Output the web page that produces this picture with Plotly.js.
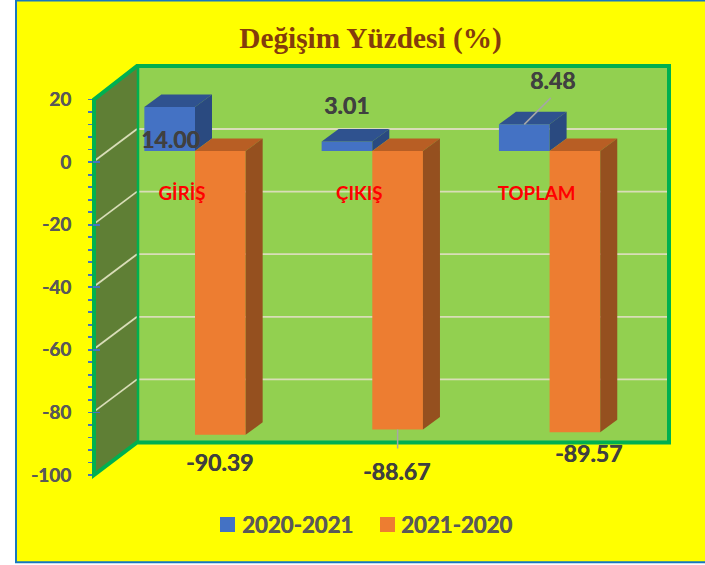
<!DOCTYPE html>
<html>
<head>
<meta charset="utf-8">
<script src="https://cdn.plot.ly/plotly-3.0.1.min.js"></script>
<style>html,body{margin:0;padding:0;background:#fff}</style>
</head>
<body>
<div id="chart" style="width:705px;height:565px"></div>
<script>
const categories = ['GİRİŞ', 'ÇIKIŞ', 'TOPLAM'];
const seriesNames = ['2020-2021', '2021-2020'];
const values2020 = [14.00, 3.01, 8.48];
const values2021 = [-90.39, -88.67, -89.57];
const axisTicks = [20, 0, -20, -40, -60, -80, -100];

// plot box in window pixels
const W = 705, H = 565, L = 93, R = 670, T = 60, B = 480;
const px = v => (v - L) / (R - L), py = v => (B - v) / (B - T);
// bar plane scales
const pxPerCat = 177.3, pxPerUnit = 3.14, cat0 = 195, zeroBar = 151;
const barW = 1 / 3.5;
const depthX = 17 / pxPerCat, depthY = 12.5 / pxPerUnit;
// wall scales
const backY = v => 129 + (0 - v) * 3.13, frontY = v => 162 - v * 3.13;

const blue = '#4472C4', blueTop = '#2F528F', blueSide = '#2A4A80';
const orange = '#ED7D31', orangeTop = '#B85E24', orangeSide = '#95501F';
const green = '#00B050', wall = '#92D050', sideWall = '#5F7F35', grid = '#D9DDB8';

function poly(d, fill, line, lw) {
  return {type: 'path', xref: 'paper', yref: 'paper', path: d, fillcolor: fill,
    line: {color: line, width: lw}, layer: 'below'};
}
const P = (x, y) => px(x) + ',' + py(y);
const clear = 'rgba(0,0,0,0)';

const shapes = [
  {type: 'rect', xref: 'paper', yref: 'paper', x0: px(16), x1: px(708), y0: py(562.3), y1: py(0.5),
    fillcolor: '#FFFF00', line: {color: '#1878BE', width: 2}, layer: 'below'},
  poly(`M${P(137, 66)}L${P(669, 66)}L${P(669, 442.5)}L${P(137, 442.5)}Z`, wall, clear, 0),
  poly(`M${P(94, 475)}L${P(94, frontY(20))}L${P(137, 66)}L${P(137, 442.5)}Z`, sideWall, clear, 0)
];
axisTicks.filter(v => v < 20 && v > -100).forEach(v => {
  shapes.push({type: 'line', xref: 'paper', yref: 'paper', x0: px(95), y0: py(frontY(v) - 1.5), x1: px(137), y1: py(backY(v)),
    line: {color: grid, width: 1.8}, layer: 'below'});
  shapes.push({type: 'line', xref: 'paper', yref: 'paper', x0: px(137), y0: py(backY(v)), x1: px(667), y1: py(backY(v)),
    line: {color: grid, width: 1.8}, layer: 'below'});
});
shapes.push(poly(`M${P(94, 475)}L${P(94, frontY(20))}L${P(137, 66)}L${P(669, 66)}L${P(669, 442.5)}L${P(137, 442.5)}Z`, clear, green, 4));
shapes.push({type: 'line', xref: 'paper', yref: 'paper', x0: px(138), y0: py(66), x1: px(138), y1: py(442.5), line: {color: green, width: 2.5}, layer: 'below'});
// legend swatches
shapes.push({type: 'rect', xref: 'paper', yref: 'paper', x0: px(220), x1: px(235), y0: py(532), y1: py(517), fillcolor: blue, line: {width: 0}, layer: 'above'});
shapes.push({type: 'rect', xref: 'paper', yref: 'paper', x0: px(380), x1: px(395), y0: py(532), y1: py(517), fillcolor: orange, line: {width: 0}, layer: 'above'});

const xs = categories.map((c, i) => i);

function faces(vals, off, topCol, sideCol) {
  const out = [];
  vals.forEach((v, i) => {
    const x0 = i + off, x1 = x0 + barW, hi = Math.max(v, 0), lo = Math.min(v, 0);
    out.push({type: 'scatter', mode: 'lines', x: [x0, x1, x1 + depthX, x0 + depthX, x0],
      y: [hi, hi, hi + depthY, hi + depthY, hi], fill: 'toself', fillcolor: topCol,
      line: {width: 0, color: topCol}, hoverinfo: 'skip', showlegend: false});
    out.push({type: 'scatter', mode: 'lines', x: [x1, x1 + depthX, x1 + depthX, x1, x1],
      y: [hi, hi + depthY, lo + depthY, lo, hi], fill: 'toself', fillcolor: sideCol,
      line: {width: 0, color: sideCol}, hoverinfo: 'skip', showlegend: false});
  });
  return out;
}

const data = [
  {type: 'bar', name: seriesNames[0], x: xs, y: values2020, marker: {color: blue}, showlegend: false},
  {type: 'bar', name: seriesNames[1], x: xs, y: values2021, marker: {color: orange}, showlegend: false},
  ...faces(values2020, -barW, blueTop, blueSide),
  ...faces(values2021, 0, orangeTop, orangeSide),
  {type: 'scatter', mode: 'markers', x: [0], y: [0], xaxis: 'x', yaxis: 'y2', marker: {opacity: 0}, hoverinfo: 'skip', showlegend: false},
  {type: 'scatter', mode: 'markers', x: [0], y: [0], xaxis: 'x', yaxis: 'y3', marker: {opacity: 0}, hoverinfo: 'skip', showlegend: false}
];

const labelFont = {family: 'Lato, sans-serif', size: 23, color: '#404040', shadow: '0.4px 0 0 #404040'};
function valueLabel(i, off, v, dx, dy) {
  return {x: i + off, y: v, xref: 'x', yref: 'y', text: '<b>' + v.toFixed(2) + '</b>', showarrow: false,
    xshift: dx, yshift: dy, font: labelFont, xanchor: 'center', yanchor: 'middle'};
}
function leader(i, off, v, ax, ay) {
  return {x: i + off, y: v, xref: 'x', yref: 'y', text: ' ', font: {size: 1}, showarrow: true, arrowhead: 0, arrowwidth: 1.5,
    arrowcolor: '#A6A6A6', ax: ax, ay: ay, standoff: 0, startstandoff: 0};
}
const legendFont = {family: 'Lato, sans-serif', size: 22.2, color: '#595959', shadow: '0.4px 0 0 #595959'};
const annotations = [
  valueLabel(0, -barW / 2, values2020[0], 1, -32),
  valueLabel(1, -barW / 2, values2020[1], -0.5, 36.5),
  valueLabel(2, -barW / 2, values2020[2], 28, 44),
  valueLabel(0, barW / 2, values2021[0], -1, -27),
  valueLabel(1, barW / 2, values2021[1], -1, -42),
  valueLabel(2, barW / 2, values2021[2], 14, -20.5),
  leader(2, -barW / 2, values2020[2], 28, -28),
  leader(1, barW / 2, values2021[1], 0, 21),
  {x: px(239.5), y: py(524.3), xref: 'paper', yref: 'paper', text: '<b>' + seriesNames[0] + '</b>', showarrow: false, xanchor: 'left', yanchor: 'middle', font: legendFont},
  {x: px(398.5), y: py(524.3), xref: 'paper', yref: 'paper', text: '<b>' + seriesNames[1] + '</b>', showarrow: false, xanchor: 'left', yanchor: 'middle', font: legendFont}
];

const tickFont = {family: 'Lato, sans-serif', size: 19, color: '#595959', shadow: '0.4px 0 0 #595959'};
const layout = {
  width: W, height: H, autosize: false,
  margin: {l: L, r: W - R, t: T, b: H - B, pad: 0},
  paper_bgcolor: '#FFFFFF', plot_bgcolor: clear,
  showlegend: false,
  title: {text: '<b>Değişim Yüzdesi (%)</b>', x: 370.5 / W, y: 1 - 38 / H, xanchor: 'center', yanchor: 'middle',
    font: {family: '"Liberation Serif", serif', size: 29.3, color: '#843C0C'}},
  barmode: 'group', bargap: 1 - 2 * barW, bargroupgap: 0,
  xaxis: {
    range: [(L - cat0) / pxPerCat, (R - cat0) / pxPerCat], tickmode: 'array', tickvals: xs, ticktext: categories.map(c => '<b>' + c + '</b>'),
    anchor: 'free', position: (B - 180) / (B - T), side: 'bottom', ticks: '', showgrid: false, zeroline: false, showline: false,
    ticklabelshift: -13, tickfont: {family: 'Lato, sans-serif', size: 18.7, color: '#FF0000'}, layer: 'above traces', tickangle: 0
  },
  yaxis: {
    domain: [0, 1], range: [(zeroBar - B) / pxPerUnit, (zeroBar - T) / pxPerUnit], visible: false, showgrid: false, zeroline: false
  },
  yaxis2: {
    domain: [py(475), py(99.5)], range: [-100, 20], tickmode: 'array', tickvals: axisTicks, ticktext: axisTicks.map(v => '<b>' + v + '</b>'),
    anchor: 'x', side: 'left', ticks: 'outside', ticklen: 4, tickwidth: 1.8, tickcolor: blue,
    minor: {dtick: 4, tick0: 0, ticks: 'outside', ticklen: 4, tickwidth: 1.8, tickcolor: blue, showgrid: false},
    showgrid: false, zeroline: false, showline: false, ticklabelstandoff: 13, tickfont: tickFont
  },
  yaxis3: {
    domain: [py(475), py(99.5)], range: [-100, 20], tickmode: 'array', tickvals: axisTicks, anchor: 'x', overlaying: 'y2', side: 'left', ticks: 'inside', ticklen: 7, tickwidth: 1.8, tickcolor: blue,
    showticklabels: false, showgrid: false, zeroline: false, showline: false
  },
  shapes: shapes,
  annotations: annotations
};
Plotly.newPlot('chart', data, layout, {displayModeBar: false, staticPlot: true});
</script>
</body>
</html>
